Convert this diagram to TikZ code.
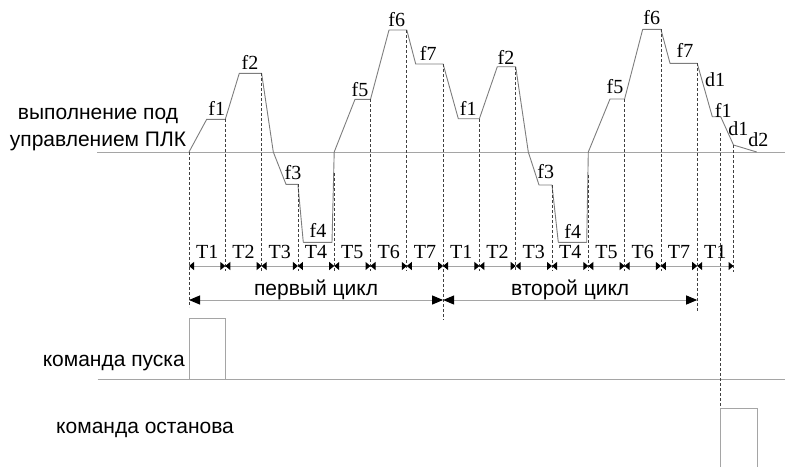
\documentclass[tikz,border=0pt]{standalone}
\usepackage{fontspec}
\setmainfont{Liberation Serif}
\setsansfont{Liberation Sans}
\usetikzlibrary{arrows.meta}
\definecolor{traceline}{RGB}{125,125,125}
\definecolor{levelline}{RGB}{165,165,165}
\tikzset{wave/.style={traceline,line width=.9pt,line join=round},
 level/.style={levelline,line width=1pt},
 guide/.style={black!75,line width=.7pt,dash pattern=on 3pt off 2pt},
 tspan/.style={{Triangle[color=black,length=5pt,width=8pt]}-{Triangle[color=black,length=5pt,width=8pt]},levelline,line width=1pt},
 cyclespan/.style={{Triangle[color=black,length=11pt,width=9pt]}-{Triangle[color=black,length=11pt,width=9pt]},levelline,line width=1pt},
 flabel/.style={text=black,font=\fontsize{20}{20}\selectfont,inner sep=0pt},
 rulabel/.style={text=black,font=\sffamily\fontsize{21}{27}\selectfont,inner sep=0pt}}

\begin{document}
\begin{tikzpicture}[x=1pt,y=-1pt]
\useasboundingbox (0,0) rectangle (785,467);
% time marks
\foreach \k in {0,...,15}
  \coordinate (t\k) at ({189+36.3*\k},266);
\coordinate (stop) at (720.7,408.3);
% levels
\draw[level] (97,152) -- (785,152);
\draw[level] (97.5,379) -- (785,379);
\node[rulabel,anchor=base] (plc1) at (98,119.5) {выполнение под};
\node[rulabel,anchor=base] (plc2) at (98,146.7) {управлением ПЛК};
% speed profile
\draw[wave] (t0 |- 0,152) -- (206.7,119.3) -- (t1 |- 0,119.3) -- (239.3,73.3)
  -- (t2 |- 0,73.3) -- (273.3,152) -- (286,184.3) -- (t3 |- 0,184.3)
  -- (303.3,242.3) -- (332,242.3) -- (t4 |- 0,152) -- (355,99.3)
  -- (t5 |- 0,99.3) -- (389,30) -- (t6 |- 0,30) -- (415.7,64) -- (t7 |- 0,64)
  -- (458.3,118.7) -- (t8 |- 0,118.7) -- (497.3,66.7) -- (t9 |- 0,66.7)
  -- (528.3,152) -- (539,185) -- (t10 |- 0,185) -- (558.3,242.3)
  -- (586.7,242.3) -- (t11 |- 0,152) -- (610,99) -- (t12 |- 0,99)
  -- (642.7,29.3) -- (t13 |- 0,29.3) -- (670,63.3) -- (t14 |- 0,63.3)
  -- (712.3,116.7) -- (stop |- 0,116.7) -- (t15 |- 0,145) -- (756.7,152);
\foreach \x/\y/\txt [count=\i] in {216.7/108/f1,250/62/f2,293/173/f3,318/230/f4,
  360/90/f5,396.7/20/f6,428.3/53/f7,468.3/108/f1,506/57/f2,545.7/172/f3,
  572.7/231.7/f4,615/87/f5,651.7/18/f6,685/50/f7,715/79.3/d1,723.3/110/f1,
  738.3/128.3/d1,758.3/140/d2}
  \node[flabel] (f\i) at (\x,\y) {\txt};
% dashed guides
\foreach \k/\top/\bot in {0/152/307,1/119.3/271,2/73.3/271,3/184.3/271,
  4/173/271,5/99.3/271,6/30/271,7/64/320,8/118.7/271,9/66.7/271,10/185/271,
  11/175/271,12/99/271,13/29.3/271,14/63.3/312,15/145/272}
  \draw[guide] (t\k |- 0,\top) -- (t\k |- 0,\bot);
\draw[guide] (stop |- 0,133) -- (stop);
% intervals
\foreach \k [evaluate=\k as \j using int(\k+1),
  evaluate=\k as \n using {int(mod(\k,7)+1)}] in {0,...,14}
  \draw[tspan] (t\k) -- (t\j) node[flabel,midway,anchor=base,yshift=7.7pt] (tl\k) {T\n};
\draw[cyclespan] (t0 |- 0,300) -- (t7 |- 0,300)
  node[rulabel,midway,anchor=base,yshift=4.5pt] (cyc1) {первый цикл};
\draw[cyclespan] (t7 |- 0,300) -- (t14 |- 0,300)
  node[rulabel,midway,anchor=base,yshift=4.5pt] (cyc2) {второй цикл};
% commands
\node[rulabel,anchor=base east] (startcmd) at (185,366.5) {команда пуска};
\draw[level] (t0 |- 0,379) |- (t1 |- 0,318.3) -- (t1 |- 0,379);
\node[rulabel,anchor=base west] (stopcmd) at (56,433.3) {команда останова};
\draw[level] (stop |- 0,467) -- (stop) -- (757.5,408.3) -- (757.5,467);
\end{tikzpicture}
\end{document}
